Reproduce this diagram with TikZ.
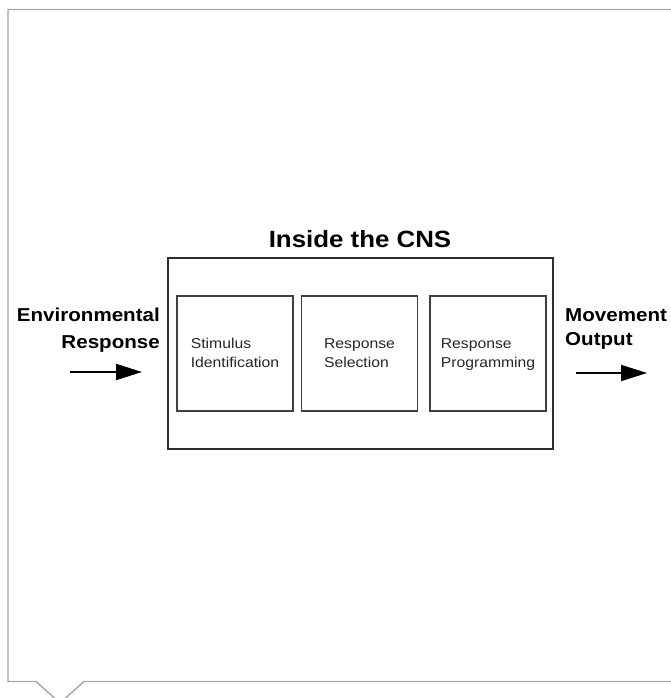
\documentclass[tikz,border=0pt]{standalone}
\usepackage{fontspec}
\setmainfont[FakeStretch=1.1]{Liberation Sans}
\usetikzlibrary{arrows.meta}
\begin{document}
\begin{tikzpicture}[x=1pt,y=-1pt,
  frame/.style={draw=black!35,line width=1.4pt},
  cnsbox/.style={draw=black!82,line width=1.8pt,minimum width=385pt,minimum height=191pt,inner sep=0pt},
  stage/.style={draw=black!75,line width=1.6pt,minimum width=116pt,minimum height=115pt,inner sep=0pt},
  stagetext/.style={align=left,font=\fontsize{14.3}{18.7}\selectfont,inner sep=0pt,text=black!85},
  flow/.style={line width=2pt,-{Triangle[length=26pt,width=16pt]}},
  side/.style={font=\bfseries\fontsize{18.7}{24}\selectfont,inner sep=0pt},
  heading/.style={font=\bfseries\fontsize{23.5}{28}\selectfont,inner sep=0pt},
]
\useasboundingbox (0,0) rectangle (671,698);

% speech-bubble frame with its tail at the lower left
\begin{scope}
  \clip (0,0) rectangle (671,698);
  \draw[frame] (690,9.5) -- (8,9.5) -- (8,681.5) -- (36,681.5) -- (60,703)
               -- (84,681.5) -- (690,681.5);
\end{scope}

% central nervous system block
\node[heading,anchor=base] (title) at (360,247) {Inside the CNS};
\node[cnsbox] (cns) at (360.5,353.5) {};

% processing stages
\node[stage] (s1) at (235,353.5) {};
\node[stage] (s2) at (359.5,353.5) {};
\node[stage] (s3) at (488,353.5) {};
\node[stagetext] (t1) at (235,354) {\strut Stimulus\\\strut Identification};
\node[stagetext] (t2) at (359.5,354) {\strut Response\\\strut Selection};
\node[stagetext] (t3) at (488,354) {\strut Response\\\strut Programming};

% input side
\node[side,anchor=base east] (env1) at (160,321.5) {Environmental};
\node[side,anchor=base east] (env2) at (160,348) {Response};
\coordinate (inA) at (70,372);
\coordinate (inB) at (142,372);
\draw[flow] (inA) -- (inB);

% output side
\node[side,anchor=base west] (mov1) at (565,321) {Movement};
\node[side,anchor=base west] (mov2) at (565,345.5) {Output};
\coordinate (outA) at (576,373);
\coordinate (outB) at (647,373);
\draw[flow] (outA) -- (outB);
\end{tikzpicture}
\end{document}
